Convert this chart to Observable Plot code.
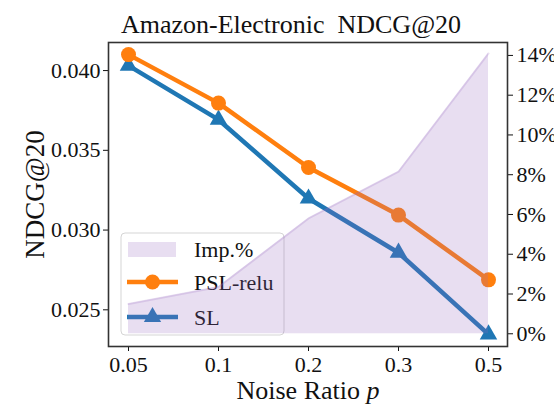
<!DOCTYPE html>
<html><head><meta charset="utf-8">
<script src="https://cdn.jsdelivr.net/npm/d3@7"></script>
<script src="https://cdn.jsdelivr.net/npm/@observablehq/plot@0.6"></script>
<style>
body{margin:0;background:#fff;}
#chart{position:relative;width:554px;height:406px;}
#chart svg, #chart svg text, #chart svg tspan{font-family:"Liberation Serif","Times New Roman",serif !important;}
#chart svg text{white-space:pre;}
</style>
</head><body><div id="chart"></div>
<script>
const noiseRatios = ["0.05", "0.1", "0.2", "0.3", "0.5"];
const pslRelu = [0.0410, 0.03796, 0.03392, 0.03094, 0.02688];
const sl = [0.04031, 0.03692, 0.03198, 0.02858, 0.02346];
const impPct = [1.5, 2.35, 5.8, 8.15, 14.1];
const leftTicks = [0.025, 0.030, 0.035, 0.040];
const rightTicks = [0, 2, 4, 6, 8, 10, 12, 14];
const seriesNames = ["Imp.%", "PSL-relu", "SL"];
const titleText = "Amazon-Electronic  NDCG@20";
const yLabel = "NDCG@20";
const xLabel = "Noise Ratio ";
const xLabelItalic = "p";

const colors = {imp: "#9467bd", psl: "#ff7f0e", sl: "#1f77b4"};
const leftDomain = [0.0227, 0.04176];
const rightDomain = [-0.64, 14.65];
const toLeft = v => leftDomain[0] + (v - rightDomain[0]) / (rightDomain[1] - rightDomain[0]) * (leftDomain[1] - leftDomain[0]);
const fromLeft = v => rightDomain[0] + (v - leftDomain[0]) / (leftDomain[1] - leftDomain[0]) * (rightDomain[1] - rightDomain[0]);

const rows = noiseRatios.map((r, i) => ({ratio: r, psl: pslRelu[i], sl: sl[i], imp: toLeft(impPct[i]), base: toLeft(0)}));

function legend(index, scales, values, dims) {
  const x0 = dims.marginLeft + 13, y0 = dims.marginTop + 191;
  const g = d3.create("svg:g").attr("font-size", 22).attr("fill", "#111").attr("text-anchor", "start");
  g.append("rect").attr("x", x0).attr("y", y0).attr("width", 163).attr("height", 102).attr("rx", 4)
    .attr("fill", "white").attr("fill-opacity", 0.8).attr("stroke", "#d5d5d5").attr("stroke-width", 1);
  const rowY = [y0 + 16, y0 + 49, y0 + 84];
  g.append("rect").attr("x", x0 + 7).attr("y", rowY[0] - 7).attr("width", 48).attr("height", 15)
    .attr("fill", colors.imp).attr("fill-opacity", 0.22);
  [[colors.psl, d3.symbolCircle, 177], [colors.sl, d3.symbolTriangle, 130]].forEach(([c, sym, size], k) => {
    const yy = rowY[k + 1];
    g.append("line").attr("x1", x0 + 6).attr("x2", x0 + 57).attr("y1", yy).attr("y2", yy)
      .attr("stroke", c).attr("stroke-width", 4.5);
    g.append("path").attr("d", d3.symbol(sym, size)()).attr("transform", `translate(${x0 + 31.5},${yy})`).attr("fill", c);
  });
  seriesNames.forEach((s, k) => {
    g.append("text").attr("x", x0 + 73).attr("y", rowY[k]).attr("dy", "0.35em").attr("text-anchor", "start").text(s);
  });
  return g.node();
}

const plot = Plot.plot({
  width: 554,
  height: 406,
  marginLeft: 108,
  marginRight: 47,
  marginTop: 42,
  marginBottom: 60,
  style: {fontFamily: "'Liberation Serif', serif", color: "#111", background: "white"},
  x: {type: "point", domain: noiseRatios, padding: 0.2},
  y: {domain: leftDomain},
  marks: [
    Plot.axisX({tickSize: 5, tickPadding: 5, fontSize: 22, label: null}),
    Plot.axisY(leftTicks, {anchor: "left", tickSize: 5, tickPadding: 3, fontSize: 22, tickFormat: d3.format(".3f"), label: null}),
    Plot.axisY(rightTicks.map(toLeft), {anchor: "right", tickSize: 5, tickPadding: 4, fontSize: 22, tickFormat: d => Math.round(fromLeft(d)) + "%", label: null}),
    Plot.line(rows, {x: "ratio", y: "sl", stroke: colors.sl, strokeWidth: 4.5}),
    Plot.dot(rows, {x: "ratio", y: "sl", symbol: "triangle", r: 6.5, fill: colors.sl, stroke: "none"}),
    Plot.line(rows, {x: "ratio", y: "psl", stroke: colors.psl, strokeWidth: 4.5}),
    Plot.dot(rows, {x: "ratio", y: "psl", symbol: "circle", r: 7.5, fill: colors.psl, stroke: "none"}),
    legend,
    Plot.areaY(rows, {x: "ratio", y1: "base", y2: "imp", fill: colors.imp, fillOpacity: 0.22}),
    Plot.line(rows, {x: "ratio", y: "imp", stroke: colors.imp, strokeOpacity: 0.22, strokeWidth: 2}),
    Plot.frame({stroke: "#333", strokeWidth: 1.6}),
    Plot.text([titleText], {frameAnchor: "top", dy: -10, dx: -17, lineAnchor: "bottom", textAnchor: "middle", fontSize: 26}),
    Plot.text([yLabel], {frameAnchor: "left", rotate: -90, dx: -65, lineAnchor: "bottom", textAnchor: "middle", fontSize: 27}),
    Plot.text([xLabel], {frameAnchor: "bottom", dy: 52, lineAnchor: "bottom", textAnchor: "middle", fontSize: 26})
  ]
});

d3.select(plot).selectAll("text").each(function() {
  if (this.textContent === xLabel || this.textContent === xLabel.trim()) {
    this.textContent = xLabel;
    d3.select(this).append("tspan").attr("font-style", "italic").text(xLabelItalic);
  }
});
document.getElementById("chart").append(plot);
</script>
</body></html>
